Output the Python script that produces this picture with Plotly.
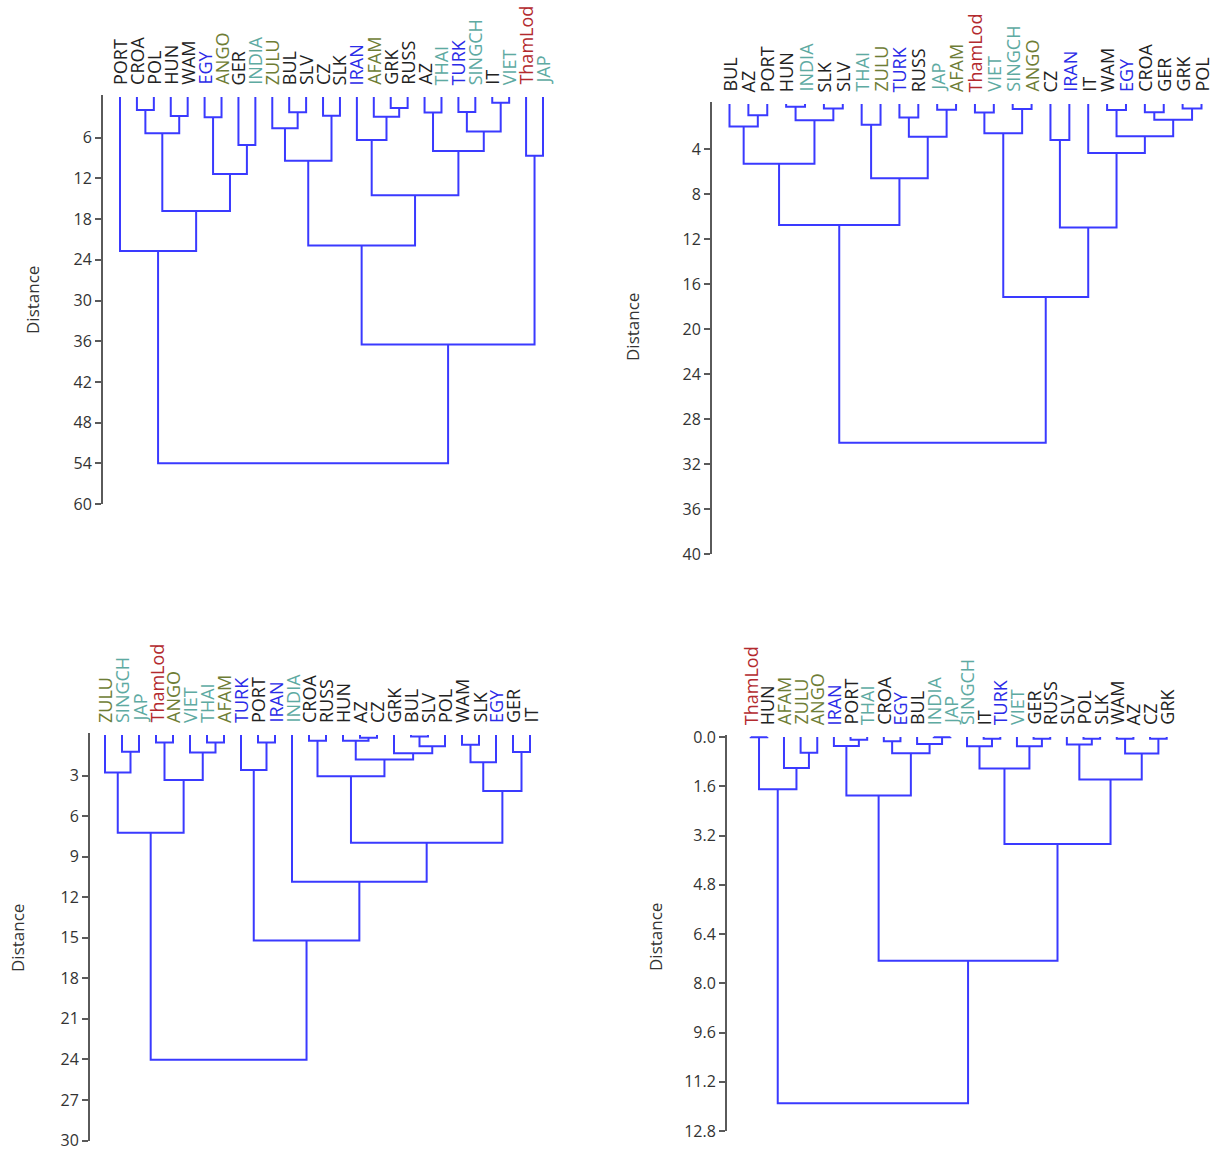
import plotly.graph_objects as go

W, H = 1220, 1153

# ---------------- data ----------------
P1_LEAVES = ["PORT", "CROA", "POL", "HUN", "WAM", "EGY", "ANGO", "GER", "INDIA", "ZULU",
             "BUL", "SLV", "CZ", "SLK", "IRAN", "AFAM", "GRK", "RUSS", "AZ", "THAI",
             "TURK", "SINGCH", "IT", "VIET", "ThamLod", "JAP"]
P1_MERGES = [
    ("CROA", "POL", 1.9), ("HUN", "WAM", 2.8), ("c0", "c1", 5.35),
    ("EGY", "ANGO", 3.0), ("GER", "INDIA", 7.08), ("c3", "c4", 11.36),
    ("c2", "c5", 16.8), ("PORT", "c6", 22.7),
    ("BUL", "SLV", 2.26), ("ZULU", "c8", 4.62), ("CZ", "SLK", 2.75), ("c9", "c10", 9.4),
    ("GRK", "RUSS", 1.62), ("AFAM", "c12", 2.9), ("IRAN", "c13", 6.35),
    ("AZ", "THAI", 2.3), ("TURK", "SINGCH", 2.2), ("IT", "VIET", 0.84), ("c16", "c17", 5.1),
    ("c15", "c18", 7.97), ("c14", "c19", 14.5), ("c11", "c20", 21.9),
    ("ThamLod", "JAP", 8.66), ("c21", "c22", 36.5), ("c7", "c23", 54.0),
]

P2_LEAVES = ["BUL", "AZ", "PORT", "HUN", "INDIA", "SLK", "SLV", "THAI", "ZULU", "TURK",
             "RUSS", "JAP", "AFAM", "ThamLod", "VIET", "SINGCH", "ANGO", "CZ", "IRAN", "IT",
             "WAM", "EGY", "CROA", "GER", "GRK", "POL"]
P2_MERGES = [
    ("AZ", "PORT", 1.0), ("BUL", "c0", 2.0), ("HUN", "INDIA", 0.25), ("SLK", "SLV", 0.4),
    ("c2", "c3", 1.45), ("c1", "c4", 5.3),
    ("THAI", "ZULU", 1.85), ("TURK", "RUSS", 1.2), ("JAP", "AFAM", 0.5), ("c7", "c8", 2.9),
    ("c6", "c9", 6.6), ("c5", "c10", 10.75),
    ("ThamLod", "VIET", 0.75), ("SINGCH", "ANGO", 0.44), ("c12", "c13", 2.6),
    ("CZ", "IRAN", 3.2), ("WAM", "EGY", 0.53), ("CROA", "GER", 0.74), ("GRK", "POL", 0.39),
    ("c17", "c18", 1.4), ("c16", "c19", 2.86), ("IT", "c20", 4.35), ("c15", "c21", 10.98),
    ("c14", "c22", 17.15), ("c11", "c23", 30.1),
]

P3_LEAVES = ["ZULU", "SINGCH", "JAP", "ThamLod", "ANGO", "VIET", "THAI", "AFAM", "TURK", "PORT",
             "IRAN", "INDIA", "CROA", "RUSS", "HUN", "AZ", "CZ", "GRK", "BUL", "SLV",
             "POL", "WAM", "SLK", "EGY", "GER", "IT"]
P3_MERGES = [
    ("SINGCH", "JAP", 1.24), ("ZULU", "c0", 2.78), ("ThamLod", "ANGO", 0.55),
    ("THAI", "AFAM", 0.55), ("VIET", "c3", 1.29), ("c2", "c4", 3.32), ("c1", "c5", 7.24),
    ("PORT", "IRAN", 0.55), ("TURK", "c7", 2.59),
    ("CROA", "RUSS", 0.42), ("AZ", "CZ", 0.2), ("HUN", "c10", 0.42), ("BUL", "SLV", 0.12),
    ("c12", "POL", 0.84), ("GRK", "c13", 1.35), ("c11", "c14", 1.82), ("c9", "c15", 3.05),
    ("WAM", "SLK", 0.72), ("c17", "EGY", 2.02), ("GER", "IT", 1.25), ("c18", "c19", 4.15),
    ("c16", "c20", 7.98), ("INDIA", "c21", 10.85), ("c8", "c22", 15.2), ("c6", "c23", 24.03),
]

P4_LEAVES = ["ThamLod", "HUN", "AFAM", "ZULU", "ANGO", "IRAN", "PORT", "THAI", "CROA", "EGY",
             "BUL", "INDIA", "JAP", "SINGCH", "IT", "TURK", "VIET", "GER", "RUSS", "SLV",
             "POL", "SLK", "WAM", "AZ", "CZ", "GRK"]
P4_MERGES = [
    ("ThamLod", "HUN", 0.01), ("ZULU", "ANGO", 0.51), ("AFAM", "c1", 1.01), ("c0", "c2", 1.7),
    ("PORT", "THAI", 0.09), ("IRAN", "c4", 0.29), ("CROA", "EGY", 0.14), ("INDIA", "JAP", 0.01),
    ("BUL", "c7", 0.23), ("c6", "c8", 0.53), ("c5", "c9", 1.9),
    ("IT", "TURK", 0.06), ("SINGCH", "c11", 0.3), ("GER", "RUSS", 0.06), ("VIET", "c13", 0.3),
    ("c12", "c14", 1.02), ("POL", "SLK", 0.06), ("SLV", "c16", 0.24), ("WAM", "AZ", 0.06),
    ("CZ", "GRK", 0.06), ("c18", "c19", 0.54), ("c17", "c20", 1.38), ("c15", "c21", 3.48),
    ("c10", "c22", 7.27), ("c3", "c23", 11.9),
]

P1_TICKS = [6, 12, 18, 24, 30, 36, 42, 48, 54, 60]
P2_TICKS = [4, 8, 12, 16, 20, 24, 28, 32, 36, 40]
P3_TICKS = [3, 6, 9, 12, 15, 18, 21, 24, 27, 30]
P4_TICKS = [0.0, 1.6, 3.2, 4.8, 6.4, 8.0, 9.6, 11.2, 12.8]

AXIS_TITLE = "Distance"

# ---------------- styles ----------------
GROUP_COLOR = {
    "EGY": "#2b2be8", "IRAN": "#2b2be8", "TURK": "#2b2be8",
    "ANGO": "#6e7d36", "ZULU": "#6e7d36", "AFAM": "#6e7d36",
    "INDIA": "#5eaaa2", "THAI": "#5eaaa2", "SINGCH": "#5eaaa2", "VIET": "#5eaaa2", "JAP": "#5eaaa2",
    "ThamLod": "#b32a2e",
}
DEFAULT_LABEL = "#222222"
LINE_COLOR = "#3a3aff"
AXIS_COLOR = "#5a5a5a"
FONT = "Open Sans"

PANELS = [
    dict(leaves=P1_LEAVES, merges=P1_MERGES, ticks=P1_TICKS, fmt="d",
         ax=103, leaf0=120, dx=16.92, right=562, top=97, bottom=504, vmax=60, title=(33, 300)),
    dict(leaves=P2_LEAVES, merges=P2_MERGES, ticks=P2_TICKS, fmt="d",
         ax=712, leaf0=729.5, dx=18.88, right=1219, top=104, bottom=554, vmax=40, title=(632, 327)),
    dict(leaves=P3_LEAVES, merges=P3_MERGES, ticks=P3_TICKS, fmt="d",
         ax=90, leaf0=105, dx=17.0, right=560, top=735, bottom=1140.5, vmax=30, title=(18, 938)),
    dict(leaves=P4_LEAVES, merges=P4_MERGES, ticks=P4_TICKS, fmt=".1f",
         ax=727, leaf0=750.7, dx=16.64, right=1200, top=737, bottom=1131, vmax=12.8, title=(655, 937)),
]


def tree_lines(leaves, merges):
    pos = {name: (i, 0.0) for i, name in enumerate(leaves)}
    xs, ys = [], []
    for k, (a, b, h) in enumerate(merges):
        xa, ha = pos[a]
        xb, hb = pos[b]
        xs += [xa, xa, xb, xb, None]
        ys += [ha, h, h, hb, None]
        pos[f"c{k}"] = ((xa + xb) / 2.0, h)
    return xs, ys


fig = go.Figure()
annotations = []
layout_axes = {}

for i, p in enumerate(PANELS, start=1):
    xs, ys = tree_lines(p["leaves"], p["merges"])
    sfx = "" if i == 1 else str(i)
    fig.add_trace(go.Scatter(x=xs, y=ys, mode="lines",
                             line=dict(color=LINE_COLOR, width=2),
                             xaxis="x" + sfx, yaxis="y" + sfx,
                             hoverinfo="skip", showlegend=False))
    x_lo = -(p["leaf0"] - p["ax"]) / p["dx"]
    x_hi = x_lo + (p["right"] - p["ax"]) / p["dx"]
    pxu = (p["bottom"] - p["top"]) / p["vmax"]
    pad = 2.0
    layout_axes["xaxis" + sfx] = dict(domain=[p["ax"] / W, p["right"] / W],
                                      range=[x_lo, x_hi], visible=False, automargin=False,
                                      anchor="y" + sfx, fixedrange=True)
    layout_axes["yaxis" + sfx] = dict(
        domain=[1 - p["bottom"] / H, 1 - (p["top"] - pad) / H],
        range=[p["vmax"], -pad / pxu], anchor="x" + sfx, automargin=False,
        showline=True, linecolor=AXIS_COLOR, linewidth=2,
        ticks="outside", ticklen=6, tickwidth=2, tickcolor=AXIS_COLOR,
        tickvals=p["ticks"], tickformat=p["fmt"], ticklabeloverflow="allow",
        tickfont=dict(family=FONT, size=16, color="#333333"),
        showgrid=False, zeroline=False, fixedrange=True)
    for j, name in enumerate(p["leaves"]):
        annotations.append(dict(
            x=j, y=0, xref="x" + sfx, yref="y" + sfx, text=name, showarrow=False,
            textangle=-90, xanchor="center", yanchor="bottom", yshift=10,
            font=dict(family=FONT, size=18, color=GROUP_COLOR.get(name, DEFAULT_LABEL))))
    tx, ty = p["title"]
    annotations.append(dict(
        x=tx / W, y=1 - ty / H, xref="paper", yref="paper", text=AXIS_TITLE,
        showarrow=False, textangle=-90, xanchor="center", yanchor="middle",
        font=dict(family=FONT, size=17, color="#333333")))

fig.update_layout(
    width=W, height=H, margin=dict(l=0, r=0, t=0, b=0, autoexpand=False),
    paper_bgcolor="white", plot_bgcolor="white",
    annotations=annotations, showlegend=False, **layout_axes)

fig.write_html("out.html",
               post_script="document.body.style.margin='0';document.body.style.overflow='hidden';")
